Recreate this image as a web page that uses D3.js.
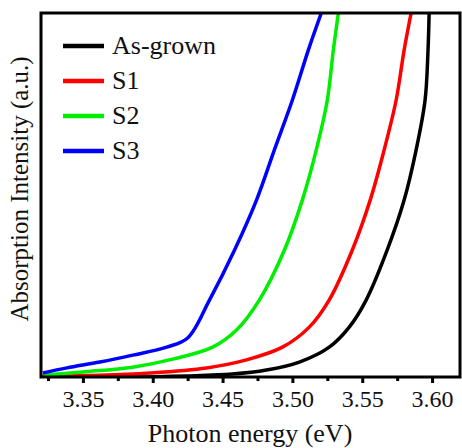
<!DOCTYPE html>
<html>
<head>
<meta charset="utf-8">
<script src="https://cdn.jsdelivr.net/npm/d3@7/dist/d3.min.js"></script>
<style>
  html, body { margin: 0; padding: 0; background: #fff; }
  svg { display: block; }
</style>
</head>
<body>
<svg id="chart" width="462" height="448"></svg>
<script>
// Absorption edge spectra (arbitrary intensity units, 0 = baseline, 1 = top of frame)
const seriesNames = ["As-grown", "S1", "S2", "S3"];
const seriesColors = ["#000000", "#ff0000", "#00ee00", "#0000ff"];

const energyAsGrown = [3.32, 3.376, 3.4243, 3.4571, 3.4814, 3.505, 3.5264, 3.5407, 3.5529, 3.5679, 3.58, 3.5886, 3.595, 3.5971, 3.5979];
const intensityAsGrown = [0.0, 0.0, 0.003, 0.008, 0.019, 0.041, 0.082, 0.137, 0.212, 0.349, 0.486, 0.624, 0.761, 0.898, 1.0];

const energyS1 = [3.3214, 3.3621, 3.3979, 3.4386, 3.4671, 3.4929, 3.5121, 3.5264, 3.5429, 3.5557, 3.5657, 3.5743, 3.58, 3.585];
const intensityS1 = [0.003, 0.005, 0.011, 0.025, 0.047, 0.082, 0.137, 0.212, 0.349, 0.486, 0.624, 0.761, 0.898, 1.0];

const energyS2 = [3.3214, 3.35, 3.3857, 3.4143, 3.4429, 3.46, 3.4764, 3.4943, 3.5071, 3.5171, 3.525, 3.5293, 3.5329];
const intensityS2 = [0.005, 0.014, 0.027, 0.049, 0.082, 0.129, 0.212, 0.349, 0.486, 0.624, 0.761, 0.898, 1.0];

const energyS3 = [3.3214, 3.3386, 3.3621, 3.3857, 3.41, 3.425, 3.4407, 3.4586, 3.4743, 3.4871, 3.5, 3.5114, 3.5207];
const intensityS3 = [0.011, 0.025, 0.041, 0.060, 0.082, 0.107, 0.212, 0.349, 0.486, 0.624, 0.761, 0.898, 1.0];

const majorTicks = [3.35, 3.40, 3.45, 3.50, 3.55, 3.60];
const minorTicks = [3.325, 3.375, 3.425, 3.475, 3.525, 3.575];
const xTitle = "Photon energy (eV)";
const yTitle = "Absorption Intensity (a.u.)";

const energies = [energyAsGrown, energyS1, energyS2, energyS3];
const intensities = [intensityAsGrown, intensityS1, intensityS2, intensityS3];

const svg = d3.select("#chart");
const frameLeft = 41, frameRight = 460, frameTop = 13, frameBottom = 377;

const x = d3.scaleLinear().domain([3.32, 3.62]).range([frameLeft, frameRight]);
const y = d3.scaleLinear().domain([0, 1]).range([frameBottom, frameTop]);

svg.append("clipPath").attr("id", "plotClip")
  .append("rect").attr("x", frameLeft).attr("y", frameTop)
  .attr("width", frameRight - frameLeft).attr("height", frameBottom - frameTop);

const line = d3.line()
  .x(d => x(d[0]))
  .y(d => y(d[1]))
  .curve(d3.curveCatmullRom.alpha(0.5));

const plot = svg.append("g").attr("clip-path", "url(#plotClip)");
seriesNames.forEach((name, i) => {
  const pts = energies[i].map((e, j) => [e, intensities[i][j]]);
  plot.append("path")
    .datum(pts)
    .attr("d", line)
    .attr("fill", "none")
    .attr("stroke", seriesColors[i])
    .attr("stroke-width", 3.5)
    .attr("stroke-linejoin", "round");
});

// every label is set in the Times-like serif face
function serif(sel, size) {
  return sel.style("font-family", "'Liberation Serif'").style("font-size", size + "px").attr("fill", "#111");
}

// x axis: major and minor outward ticks
const axisMajor = d3.axisBottom(x).tickValues(majorTicks).tickFormat(d3.format(".2f")).tickSize(6).tickPadding(7);
const gx = svg.append("g").attr("transform", `translate(0,${frameBottom})`).call(axisMajor);
gx.attr("font-family", null).attr("font-size", null);
gx.select(".domain").remove();
gx.selectAll(".tick line").attr("stroke", "#000").attr("stroke-width", 3);
serif(gx.selectAll(".tick text"), 24);

const axisMinor = d3.axisBottom(x).tickValues(minorTicks).tickFormat("").tickSize(4);
const gxm = svg.append("g").attr("transform", `translate(0,${frameBottom})`).call(axisMinor);
gxm.select(".domain").remove();
gxm.selectAll(".tick line").attr("stroke", "#000").attr("stroke-width", 3);

// frame
svg.append("rect")
  .attr("x", frameLeft).attr("y", frameTop)
  .attr("width", frameRight - frameLeft).attr("height", frameBottom - frameTop)
  .attr("fill", "none").attr("stroke", "#000").attr("stroke-width", 3);

// axis titles
serif(svg.append("text"), 26)
  .attr("x", 250).attr("y", 442)
  .attr("text-anchor", "middle")
  .text(xTitle);

serif(svg.append("text"), 25)
  .attr("transform", "translate(28,189) rotate(-90)")
  .attr("text-anchor", "middle")
  .text(yTitle);

// legend
const legend = svg.append("g");
seriesNames.forEach((name, i) => {
  const ly = 46 + i * 35;
  legend.append("line")
    .attr("x1", 63).attr("x2", 104).attr("y1", ly).attr("y2", ly)
    .attr("stroke", seriesColors[i]).attr("stroke-width", 4.5);
  serif(legend.append("text"), 26)
    .attr("x", 112).attr("y", ly + 8)
    .text(name);
});
</script>
</body>
</html>
